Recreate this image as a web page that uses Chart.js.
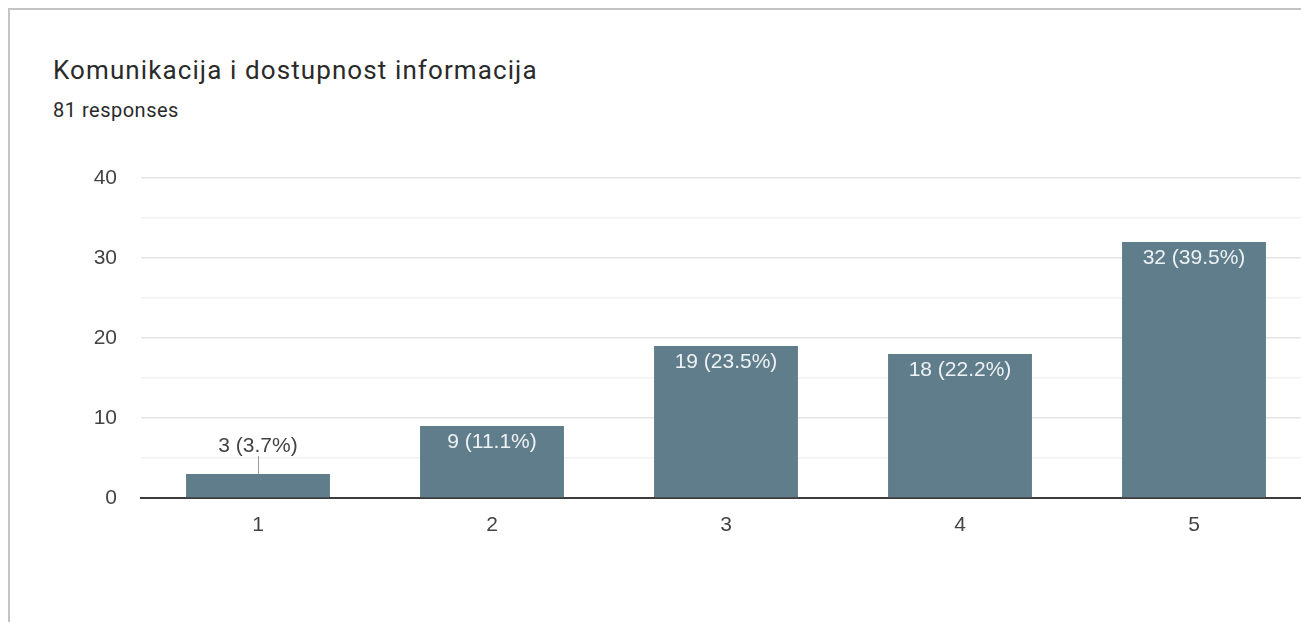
<!DOCTYPE html>
<html>
<head>
<meta charset="utf-8">
<script src="https://cdn.jsdelivr.net/npm/chart.js@4/dist/chart.umd.min.js"></script>
<style>
  html, body { margin: 0; padding: 0; background: #fff; }
  body { width: 1301px; height: 622px; overflow: hidden; position: relative; }
  .card { position: absolute; left: 8px; top: 8px; right: -20px; bottom: -20px;
    border-left: 2px solid #c4c4c4; border-top: 2px solid #c4c4c4; }
  .title { position: absolute; left: 53px; top: 55px; font: 26px/30px Roboto, sans-serif; letter-spacing: 1.1px; color: #2a2a2a; white-space: nowrap; }
  .sub { position: absolute; left: 53px; top: 98px; font: 20px/24px Roboto, sans-serif; letter-spacing: 0.5px; color: #2a2a2a; white-space: nowrap; }
  #chart { position: absolute; left: 0; top: 0; }
</style>
</head>
<body>
<div class="card"></div>
<div class="title">Komunikacija i dostupnost informacija</div>
<div class="sub">81 responses</div>
<canvas id="chart" width="1330" height="622"></canvas>
<script>
const categories = ["1", "2", "3", "4", "5"];
const counts = [3, 9, 19, 18, 32];
const yTicks = [0, 10, 20, 30, 40];

const total = counts.reduce((a, b) => a + b, 0);
const labelFont = '21px "Liberation Sans", Arial, sans-serif';

// draws "n (p%)" on each bar, above with a small leader if the bar is short
const barLabels = {
  id: "barLabels",
  afterDatasetsDraw(chart) {
    const ctx = chart.ctx;
    const meta = chart.getDatasetMeta(0);
    ctx.save();
    ctx.font = labelFont;
    ctx.textAlign = "center";
    ctx.textBaseline = "middle";
    meta.data.forEach((bar, i) => {
      const v = counts[i];
      const text = v + " (" + (v / total * 100).toFixed(1) + "%)";
      const h = bar.base - bar.y;
      if (h > 34) {
        ctx.fillStyle = "#eef2f4";
        ctx.fillText(text, bar.x, bar.y + 16);
      } else {
        ctx.strokeStyle = "#9a9a9a";
        ctx.lineWidth = 1;
        ctx.beginPath();
        ctx.moveTo(bar.x + 0.5, bar.y);
        ctx.lineTo(bar.x + 0.5, bar.y - 18);
        ctx.stroke();
        ctx.fillStyle = "#444";
        ctx.fillText(text, bar.x, bar.y - 28);
      }
    });
    ctx.restore();
  }
};

const ctx = document.getElementById("chart").getContext("2d");
const myChart = new Chart(ctx, {
  type: "bar",
  data: {
    labels: categories,
    datasets: [{
      data: counts,
      backgroundColor: "#607d8b",
      categoryPercentage: 1,
      barPercentage: 0.615
    }]
  },
  options: {
    responsive: false,
    animation: false,
    devicePixelRatio: 1,
    layout: { padding: { top: 178, right: 19, left: 0, bottom: 0 } },
    plugins: {
      legend: { display: false },
      tooltip: { enabled: false }
    },
    scales: {
      x: {
        grid: { display: false },
        border: { display: true, color: "#3c3c3c", width: 2 },
        ticks: { color: "#444", font: { family: '"Liberation Sans", Arial', size: 21 }, padding: 7 },
        afterFit: (s) => { s.height = 124; }
      },
      y: {
        min: yTicks[0],
        max: yTicks[yTicks.length - 1],
        border: { display: false },
        grid: {
          drawTicks: false,
          lineWidth: 1.5,
          color: (c) => {
            const v = c.tick ? c.tick.value : 0;
            if (v === 0) return "rgba(0,0,0,0)";
            return yTicks.includes(v) ? "#e4e4e4" : "#f2f2f2";
          }
        },
        ticks: {
          stepSize: 5,
          color: "#444",
          padding: 24,
          font: { family: '"Liberation Sans", Arial', size: 21 },
          callback: (v) => (yTicks.includes(v) ? v : "")
        },
        afterFit: (s) => { s.width = 141; }
      }
    }
  },
  plugins: [barLabels]
});
</script>
</body>
</html>
